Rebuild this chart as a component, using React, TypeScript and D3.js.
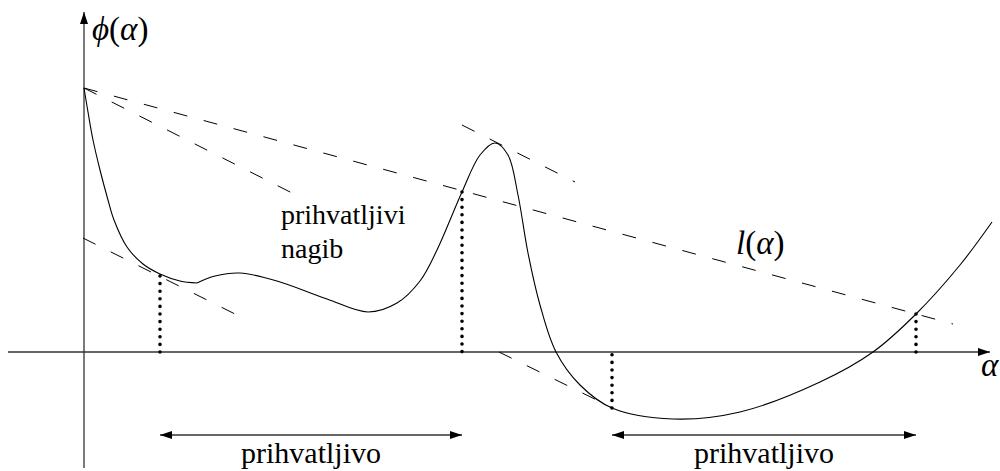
import React from 'react';
import * as d3 from 'd3';

// phi(alpha) sampled by eye, split at the corner near alpha = 1.13
const curveLeft: [number, number][] = [
  [0, 2.64], [0.04, 2.4], [0.09, 2.12], [0.16, 1.82], [0.24, 1.52], [0.3, 1.32],
  [0.43, 1.05], [0.59, 0.88], [0.76, 0.78], [0.96, 0.71], [1.13, 0.69]
];
const curveRight: [number, number][] = [
  [1.13, 0.69], [1.31, 0.76], [1.56, 0.79], [1.93, 0.71], [2.43, 0.53], [2.84, 0.4],
  [3.13, 0.49], [3.36, 0.71], [3.53, 1.02], [3.78, 1.6], [3.96, 1.97], [4.11, 2.09],
  [4.24, 1.97], [4.34, 1.57], [4.44, 0.99], [4.56, 0.47], [4.72, 0], [4.96, -0.33],
  [5.28, -0.56], [5.89, -0.67], [6.56, -0.6], [7.36, -0.3], [7.89, 0], [8.32, 0.38],
  [8.76, 0.87], [9.08, 1.3]
];

// dashed lines: [alpha0, phi0, alpha1, phi1]
const dashedLines: [number, number, number, number][] = [
  [0, 2.64, 8.69, 0.28],     // l(alpha)
  [0, 2.64, 2.16, 1.55],     // slope at 0 times c2
  [-0.01, 1.14, 1.51, 0.38], // tangent at first acceptable point
  [3.78, 2.27, 4.91, 1.7],   // tangent near the peak
  [4.15, 0, 5.29, -0.56]     // tangent at lower point
];

// dotted drops to the axis
const dropAlphas = [0.76, 3.78, 5.28, 8.32];
const dropPhis = [0.76, 1.6, -0.56, 0.38];

// acceptable intervals
const intervals: [number, number][] = [[0.76, 3.78], [5.28, 8.32]];
const intervalLabels = ['prihvatljivo', 'prihvatljivo'];

const W = 1000;
const H = 471;
const FONT = 'Liberation Serif';

export default function App() {
  const x = d3.scaleLinear().domain([-0.76, 9.16]).range([8, 1000]);
  const y = d3.scaleLinear().domain([-1.2, 3.4]).range([472, 12]);

  const line = d3.line<[number, number]>()
    .x(d => x(d[0]))
    .y(d => y(d[1]))
    .curve(d3.curveCatmullRom.alpha(0.5));

  const arrowY = y(-0.83);
  const txt = { fontFamily: FONT };

  return (
    <svg width={W} height={H} style={{ position: 'absolute', left: 0, top: 0, background: '#fff' }}>
      <defs>
        <marker id="ah" viewBox="0 0 12 8" refX="12" refY="4" markerWidth="12" markerHeight="8"
          markerUnits="userSpaceOnUse" orient="auto-start-reverse">
          <path d="M0,0 L12,4 L0,8 Z" fill="#000" />
        </marker>
      </defs>

      {/* axes */}
      <line x1={x(0)} x2={x(0)} y1={468} y2={y(3.4)} stroke="#333" strokeWidth={1.3} markerEnd="url(#ah)" />
      <line x1={8} x2={990} y1={y(0)} y2={y(0)} stroke="#333" strokeWidth={1.3} markerEnd="url(#ah)" />

      {/* dashed lines */}
      {dashedLines.map((d, i) => (
        <line key={i} x1={x(d[0])} y1={y(d[1])} x2={x(d[2])} y2={y(d[3])}
          stroke="#000" strokeWidth={1} strokeDasharray="14 17" />
      ))}

      {/* phi curve */}
      <path d={line(curveLeft) || ''} fill="none" stroke="#000" strokeWidth={1.1} />
      <path d={line(curveRight) || ''} fill="none" stroke="#000" strokeWidth={1.1} />

      {/* dotted drops */}
      {dropAlphas.map((a, i) => (
        <line key={i} x1={x(a)} x2={x(a)} y1={y(dropPhis[i])} y2={y(0)}
          stroke="#000" strokeWidth={3.6} strokeLinecap="round" strokeDasharray="0 7.6" />
      ))}

      {/* acceptable intervals */}
      {intervals.map((iv, i) => (
        <g key={i}>
          <line x1={x(iv[0])} x2={x(iv[1])} y1={arrowY} y2={arrowY} stroke="#333" strokeWidth={1.4}
            markerStart="url(#ah)" markerEnd="url(#ah)" />
          <text x={(x(iv[0]) + x(iv[1])) / 2} y={arrowY + 28} textAnchor="middle" fontSize={30} style={txt}>
            {intervalLabels[i]}
          </text>
        </g>
      ))}

      {/* labels */}
      <text x={92} y={40} fontSize={33} style={txt}>
        <tspan fontStyle="italic">ϕ</tspan>(<tspan fontStyle="italic">α</tspan>)
      </text>
      <text x={981} y={376} fontSize={33} fontStyle="italic" style={txt}>α</text>
      <text x={736} y={254} fontSize={33} style={txt}>
        <tspan fontStyle="italic">l</tspan>(<tspan fontStyle="italic">α</tspan>)
      </text>
      <text x={281} y={224} fontSize={28} style={txt}>prihvatljivi</text>
      <text x={281} y={258} fontSize={28} style={txt}>nagib</text>
    </svg>
  );
}
